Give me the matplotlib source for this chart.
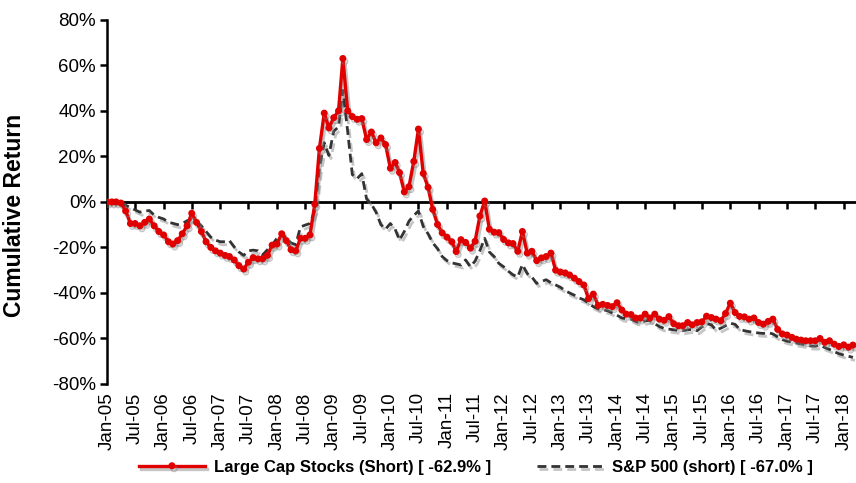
import pandas as pd
import matplotlib
matplotlib.use("Agg")
import matplotlib.pyplot as plt
import matplotlib.dates as mdates
import matplotlib.patheffects as pe
from matplotlib.ticker import FuncFormatter

plt.rcParams['font.family'] = ['Liberation Sans', 'DejaVu Sans']

# Monthly cumulative returns (%), Jan-05 .. Mar-18
large_cap_short = [
    0, 0, 0, -0.5, -4, -9.5, -9.5, -10.5, -9, -7.5,
    -10.5, -13, -14.5, -17.5, -18.5, -17, -14, -10.5, -5, -9,
    -13, -17.5, -20, -21.5, -22.5, -23.5, -24, -25.5, -28, -29.5,
    -26.5, -24.5, -25, -25, -23.5, -19, -18.5, -14, -17, -21,
    -21.5, -16, -16, -14.5, -1, 23.5, 39, 32.5, 37, 40,
    63, 40, 37.5, 36.3, 36.6, 27.4, 30.7, 26, 28.1, 25.2,
    14.8, 17.3, 12.9, 4.4, 6.7, 17.8, 32, 12.5, 6.4, -3.3,
    -9.9, -13.6, -15.5, -17.5, -21.8, -16.6, -17.8, -20.3, -17.3, -6.2,
    0.4, -12, -13.3, -13.5, -16.5, -18, -18.3, -21.7, -13, -22.5,
    -21.7, -25.8, -24.6, -24, -22.5, -30, -30.8, -31.2, -32.1, -33.5,
    -35, -36.5, -42.5, -40.5, -45.5, -45, -45.5, -46, -44.3, -47.5,
    -49.3, -49.5, -51, -51, -49.3, -51, -49.3, -51.5, -52, -50.4,
    -53.5, -54.4, -54.4, -53, -54, -53, -52.7, -50.2, -50.8, -51.5,
    -52.2, -49, -44.5, -48.6, -50.3, -50.5, -51.5, -51, -53, -53.7,
    -52.5, -51.5, -56, -58, -58.5, -59.5, -60.3, -60.7, -61, -61,
    -61, -60, -61.7, -61, -62.5, -63.5, -62.8, -63.8, -62.9,
]

sp500_short = [
    0, 0, 0, -0.5, -1.5, -2.5, -3.5, -4.5, -4, -3.8,
    -5.8, -6.8, -7.5, -9, -9.4, -10, -9.5, -8.3, -7.7, -8.5,
    -10.5, -13, -15.5, -16.8, -17.5, -17.5, -17, -19.8, -22, -23.5,
    -21.5, -21.2, -21.5, -23.3, -21, -19, -16, -13.5, -16, -18,
    -18.8, -11, -10.2, -9.5, -4, 15, 26, 20.4, 31, 33,
    49, 31, 12, 10.2, 12.4, 1.3, -1, -4.5, -10, -12,
    -9.5, -12, -16.8, -13, -8.5, -6, -4, -10.8, -14, -18,
    -20.5, -24, -25.8, -26.8, -27.2, -27.7, -25.5, -28.5, -26, -21.5,
    -16, -22, -24, -27, -28.5, -30.5, -32, -33, -27.5, -31.5,
    -33, -35.8, -35, -34.2, -35.5, -36.5, -37.5, -39, -40, -41,
    -42.2, -43, -44.5, -46, -47, -47.4, -47.8, -48.8, -49.8, -51,
    -51.3, -51.5, -52.5, -53, -52.3, -52, -53.5, -54.8, -55.6, -55.9,
    -56.2, -56.5, -56.6, -56.2, -56, -56.6, -55, -53.5, -54, -56.3,
    -55.5, -54.4, -53.3, -53.8, -56, -56.6, -57, -57.3, -57.6, -57.8,
    -57.5, -58, -59.3, -60.5, -61.2, -61.5, -62, -62.4, -62.7, -63.3,
    -63.4, -63, -64, -64.8, -65.8, -66.7, -67.3, -67.8, -68.3,
]

dates = pd.date_range("2005-01-01", periods=len(large_cap_short), freq="MS")
labels = ["Large Cap Stocks (Short) [ -62.9% ]", "S&P 500 (short) [ -67.0% ]"]

fig = plt.figure(figsize=(8.56, 4.83), dpi=100)
ax = fig.add_axes([0.125, 0.205, 0.875, 0.754])

shadow = [pe.SimpleLineShadow(offset=(1.5, -2.2), shadow_color="#808080", alpha=0.45), pe.Normal()]

ax.plot(dates, sp500_short, color="#333333", lw=2.0, ls=(0, (3.2, 1.8)),
        label=labels[1], path_effects=shadow, zorder=3)
ax.plot(dates, large_cap_short, color="#e00000", lw=2.4, marker="o", ms=4,
        label=labels[0], path_effects=shadow, zorder=4)

ax.set_ylim(-80, 80)
ax.set_xlim(pd.Timestamp("2005-01-01"), pd.Timestamp("2018-03-21"))
ax.set_yticks(range(-80, 81, 20))
ax.yaxis.set_major_formatter(FuncFormatter(lambda v, p: f"{v:.0f}%"))
ax.tick_params(axis="y", labelsize=13.5, length=5, width=1.8, direction="out", pad=3)

for s in ["top", "right"]:
    ax.spines[s].set_visible(False)
ax.spines["left"].set_linewidth(1.8)
ax.spines["bottom"].set_position(("data", 0))
ax.spines["bottom"].set_linewidth(2.0)
ax.spines["bottom"].set_zorder(2)

ax.xaxis.set_major_locator(mdates.MonthLocator(bymonth=[1, 7]))
ax.tick_params(axis="x", length=5, width=1.8, direction="out", labelbottom=False)

sec = ax.secondary_xaxis("bottom")
sec.xaxis.set_major_locator(mdates.MonthLocator(bymonth=[1, 7]))
sec.xaxis.set_major_formatter(mdates.DateFormatter("%b-%y"))
sec.tick_params(axis="x", length=0, labelsize=13.5, labelrotation=90, pad=6)
sec.spines["bottom"].set_visible(False)

ax.set_ylabel("Cumulative Return", fontsize=16.5, fontweight="bold")
ax.yaxis.set_label_coords(-0.108, 0.462)

h, l = ax.get_legend_handles_labels()
fig.legend(h[::-1], l[::-1], loc="center", bbox_to_anchor=(0.556, 0.033), ncol=2,
           frameon=False, prop={"size": 12, "weight": "bold"},
           handlelength=4, columnspacing=2.8, handletextpad=0.5)

fig.savefig("out.png", dpi=100)
